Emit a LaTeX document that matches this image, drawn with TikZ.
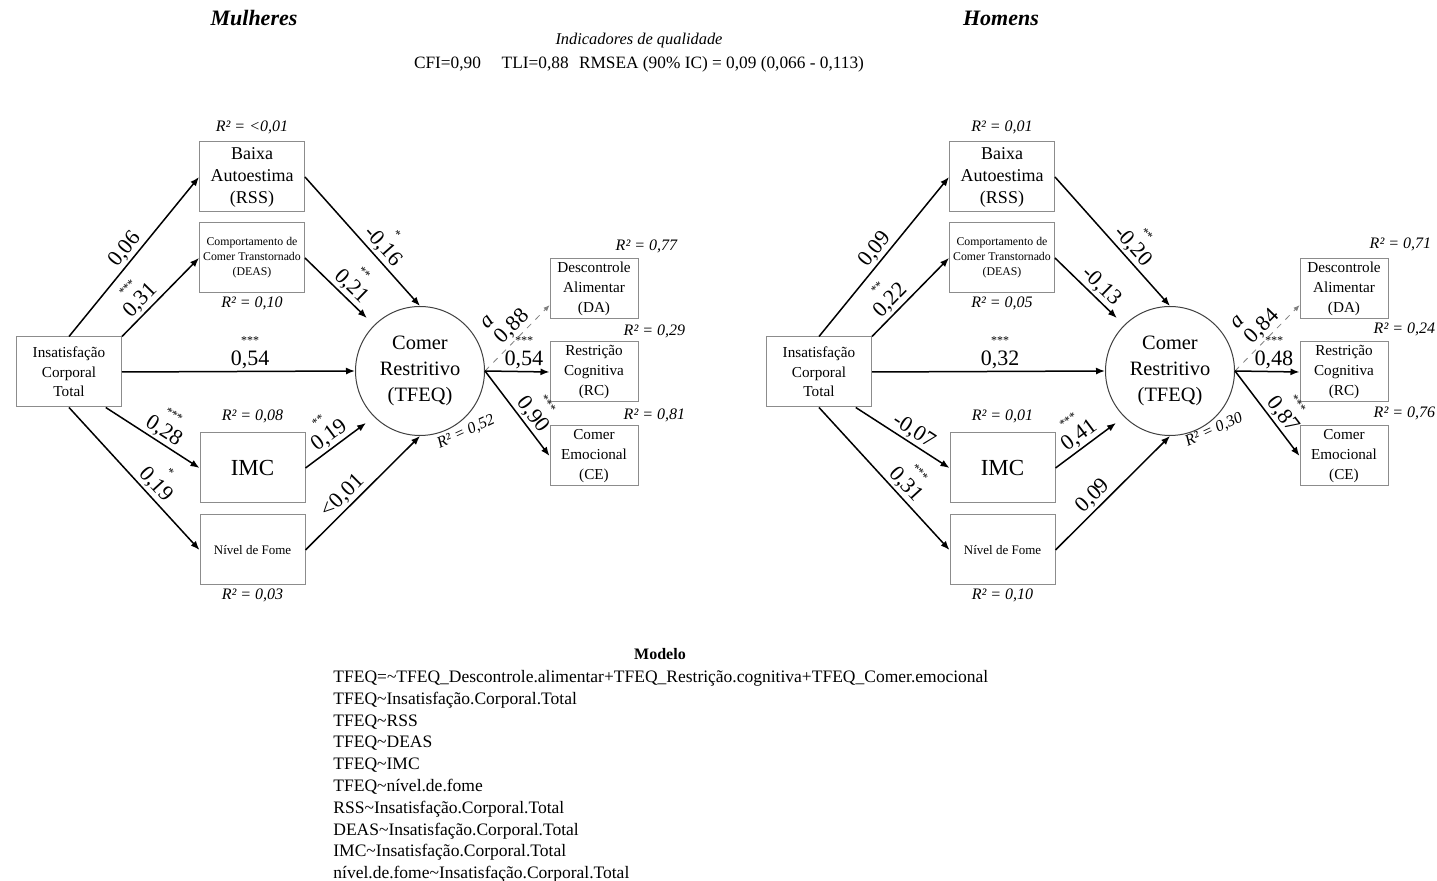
\documentclass[tikz,border=0pt]{standalone}
\usepackage{fontspec}
\setmainfont{Liberation Serif}
\usetikzlibrary{arrows.meta,positioning}
\newcommand{\est}[2]{\shortstack{\fontsize{6}{6}\selectfont #1\\#2}}

\begin{document}
\begin{tikzpicture}[>=Latex,x=0.5pt,y=-0.5pt]
  \tikzstyle{box}=[draw=gray!90,line width=0.5pt,minimum width=52.5pt,minimum height=35pt,align=center,inner sep=1pt,font=\fontsize{9}{11}\selectfont]
  \tikzstyle{ind}=[draw=gray!90,line width=0.5pt,minimum width=44pt,minimum height=30pt,align=center,inner sep=1pt,font=\fontsize{7.6}{10}\selectfont]
  \tikzstyle{lat}=[draw=black!75,circle,line width=0.5pt,minimum size=64.5pt,align=center,inner sep=0pt,font=\fontsize{10.2}{13.2}\selectfont]
  \tikzstyle{r2}=[inner sep=0.5pt,font=\fontsize{8}{8}\selectfont\itshape]
  \tikzstyle{coef}=[sloped,above,inner sep=1pt,text=black,font=\fontsize{11}{11}\selectfont]
  \tikzstyle{seta}=[line width=0.75pt,-{Latex[length=4.5pt,width=3.5pt]}]
  \tikzstyle{tracejada}=[gray,dashed,line width=0.4pt,-{Latex[length=3pt,width=2.5pt]}]
  \useasboundingbox (0,0) rectangle (1437,881);

  % cabecalho
  \node[font=\fontsize{11}{11}\selectfont\bfseries\itshape] (mulheres) at (254,18) {Mulheres};
  \node[font=\fontsize{11}{11}\selectfont\bfseries\itshape] (homens) at (1001,18) {Homens};
  \node[font=\fontsize{8.2}{8.2}\selectfont\itshape] (indicadores) at (639,41) {Indicadores de qualidade};
  \node[font=\fontsize{8.65}{8.65}\selectfont] (ajuste) at (639,64) {CFI=0,90\hspace{1.2em}TLI=0,88\hspace{0.6em}RMSEA (90\% IC) = 0,09 (0,066 - 0,113)};

  % mulheres
  \node[box,font=\fontsize{7.6}{9.8}\selectfont] (insat) at (69,372) {Insatisfação\\Corporal\\Total};
  \node[box] (rss) at (252,177) {Baixa\\Autoestima\\(RSS)};
  \node[box,font=\fontsize{5.9}{7.5}\selectfont] (deas) at (252,258) {Comportamento de\\Comer Transtornado\\(DEAS)};
  \node[box,font=\fontsize{11.5}{11.5}\selectfont] (imc) at (252.5,468) {IMC};
  \node[box,font=\fontsize{6.5}{6.5}\selectfont] (fome) at (252.5,550) {Nível de Fome};
  \node[lat] (tfeq) at (420,371) {Comer\\Restritivo\\(TFEQ)};
  \node[ind] (da) at (594,289) {Descontrole\\Alimentar\\(DA)};
  \node[ind] (rc) at (594,372) {Restrição\\Cognitiva\\(RC)};
  \node[ind] (ce) at (594,456) {Comer\\Emocional\\(CE)};

  \node[r2,above=3pt of rss] (r2rss) {R² = <0,01};
  \node[r2,below=1pt of deas] (r2deas) {R² = 0,10};
  \node[r2,above=4pt of imc] (r2imc) {R² = 0,08};
  \node[r2,below=1pt of fome] (r2fome) {R² = 0,03};
  \node[r2,above left=2pt and -20pt of da.north east] (r2da) {R² = 0,77};
  \node[r2,above left=1pt and -24pt of rc.north east] (r2rc) {R² = 0,29};
  \node[r2,above left=1pt and -24pt of ce.north east] (r2ce) {R² = 0,81};
  \node[r2,rotate=25] (r2tfeq) at (466,432) {R² = 0,52};

  \draw[seta] (insat.north) -- node[coef,pos=0.5] {0,06} (rss.west);
  \draw[seta] (insat.north east) -- node[coef,pos=0.35] {\est{***}{0,31}} (deas.west);
  \draw[seta] (insat.east) -- node[coef,pos=0.55] {\est{***}{0,54}} (tfeq.west);
  \draw[seta] (insat.-44) -- node[coef,pos=0.55] {\est{***}{0,28}} (imc.west);
  \draw[seta] (insat.south) -- node[coef,pos=0.6] {\est{*}{0,19}} (fome.west);
  \draw[seta] (rss.east) -- node[coef,pos=0.6] {\est{*}{-0,16}} (tfeq.north);
  \draw[seta,shorten >=5pt] (deas.east) -- node[coef,pos=0.55] {\est{**}{0,21}} (tfeq.135);
  \draw[seta,shorten >=5pt] (imc.east) -- node[coef,pos=0.45] {\est{**}{0,19}} (tfeq.225);
  \draw[seta] (fome.east) -- node[coef,pos=0.4] {<0,01} (tfeq.south);
  \draw[tracejada] (tfeq.east) -- node[coef,pos=0.55] {\shortstack[l]{\textit{a}\\0,88}} (da.200);
  \draw[seta] (tfeq.east) -- node[coef,pos=0.6] {\est{***}{0,54}} (rc.west);
  \draw[seta] (tfeq.east) -- node[coef,pos=0.6] {\est{***}{0,90}} (ce.west);

  % homens
  \node[box,font=\fontsize{7.6}{9.8}\selectfont] (insatH) at (819,372) {Insatisfação\\Corporal\\Total};
  \node[box] (rssH) at (1002,177) {Baixa\\Autoestima\\(RSS)};
  \node[box,font=\fontsize{5.9}{7.5}\selectfont] (deasH) at (1002,258) {Comportamento de\\Comer Transtornado\\(DEAS)};
  \node[box,font=\fontsize{11.5}{11.5}\selectfont] (imcH) at (1002.5,468) {IMC};
  \node[box,font=\fontsize{6.5}{6.5}\selectfont] (fomeH) at (1002.5,550) {Nível de Fome};
  \node[lat] (tfeqH) at (1170,371) {Comer\\Restritivo\\(TFEQ)};
  \node[ind] (daH) at (1344,289) {Descontrole\\Alimentar\\(DA)};
  \node[ind] (rcH) at (1344,372) {Restrição\\Cognitiva\\(RC)};
  \node[ind] (ceH) at (1344,456) {Comer\\Emocional\\(CE)};

  \node[r2,above=3pt of rssH] (r2rssH) {R² = 0,01};
  \node[r2,below=1pt of deasH] (r2deasH) {R² = 0,05};
  \node[r2,above=4pt of imcH] (r2imcH) {R² = 0,01};
  \node[r2,below=1pt of fomeH] (r2fomeH) {R² = 0,10};
  \node[r2,above left=3pt and -22pt of daH.north east] (r2daH) {R² = 0,71};
  \node[r2,above left=2pt and -24pt of rcH.north east] (r2rcH) {R² = 0,24};
  \node[r2,above left=2pt and -24pt of ceH.north east] (r2ceH) {R² = 0,76};
  \node[r2,rotate=25] (r2tfeqH) at (1214,430) {R² = 0,30};

  \draw[seta] (insatH.north) -- node[coef,pos=0.5] {0,09} (rssH.west);
  \draw[seta] (insatH.north east) -- node[coef,pos=0.35] {\est{**}{0,22}} (deasH.west);
  \draw[seta] (insatH.east) -- node[coef,pos=0.55] {\est{***}{0,32}} (tfeqH.west);
  \draw[seta] (insatH.-44) -- node[coef,pos=0.55] {-0,07} (imcH.west);
  \draw[seta] (insatH.south) -- node[coef,pos=0.6] {\est{***}{0,31}} (fomeH.west);
  \draw[seta] (rssH.east) -- node[coef,pos=0.6] {\est{**}{-0,20}} (tfeqH.north);
  \draw[seta,shorten >=5pt] (deasH.east) -- node[coef,pos=0.55] {-0,13} (tfeqH.135);
  \draw[seta,shorten >=5pt] (imcH.east) -- node[coef,pos=0.45] {\est{***}{0,41}} (tfeqH.225);
  \draw[seta] (fomeH.east) -- node[coef,pos=0.4] {0,09} (tfeqH.south);
  \draw[tracejada] (tfeqH.east) -- node[coef,pos=0.55] {\shortstack[l]{\textit{a}\\0,84}} (daH.200);
  \draw[seta] (tfeqH.east) -- node[coef,pos=0.6] {\est{***}{0,48}} (rcH.west);
  \draw[seta] (tfeqH.east) -- node[coef,pos=0.6] {\est{***}{0,87}} (ceH.west);

  % modelo
  \node[font=\fontsize{8}{8}\selectfont\bfseries] (modelo) at (660,654) {Modelo};
  \node[anchor=north west,inner sep=0pt,align=left,font=\fontsize{8.75}{10.9}\selectfont] (equacoes) at (333,670)
    {TFEQ=\textasciitilde TFEQ\_Descontrole.alimentar+TFEQ\_Restrição.cognitiva+TFEQ\_Comer.emocional\\
     TFEQ\textasciitilde Insatisfação.Corporal.Total\\
     TFEQ\textasciitilde RSS\\
     TFEQ\textasciitilde DEAS\\
     TFEQ\textasciitilde IMC\\
     TFEQ\textasciitilde nível.de.fome\\
     RSS\textasciitilde Insatisfação.Corporal.Total\\
     DEAS\textasciitilde Insatisfação.Corporal.Total\\
     IMC\textasciitilde Insatisfação.Corporal.Total\\
     nível.de.fome\textasciitilde Insatisfação.Corporal.Total};
\end{tikzpicture}
\end{document}
